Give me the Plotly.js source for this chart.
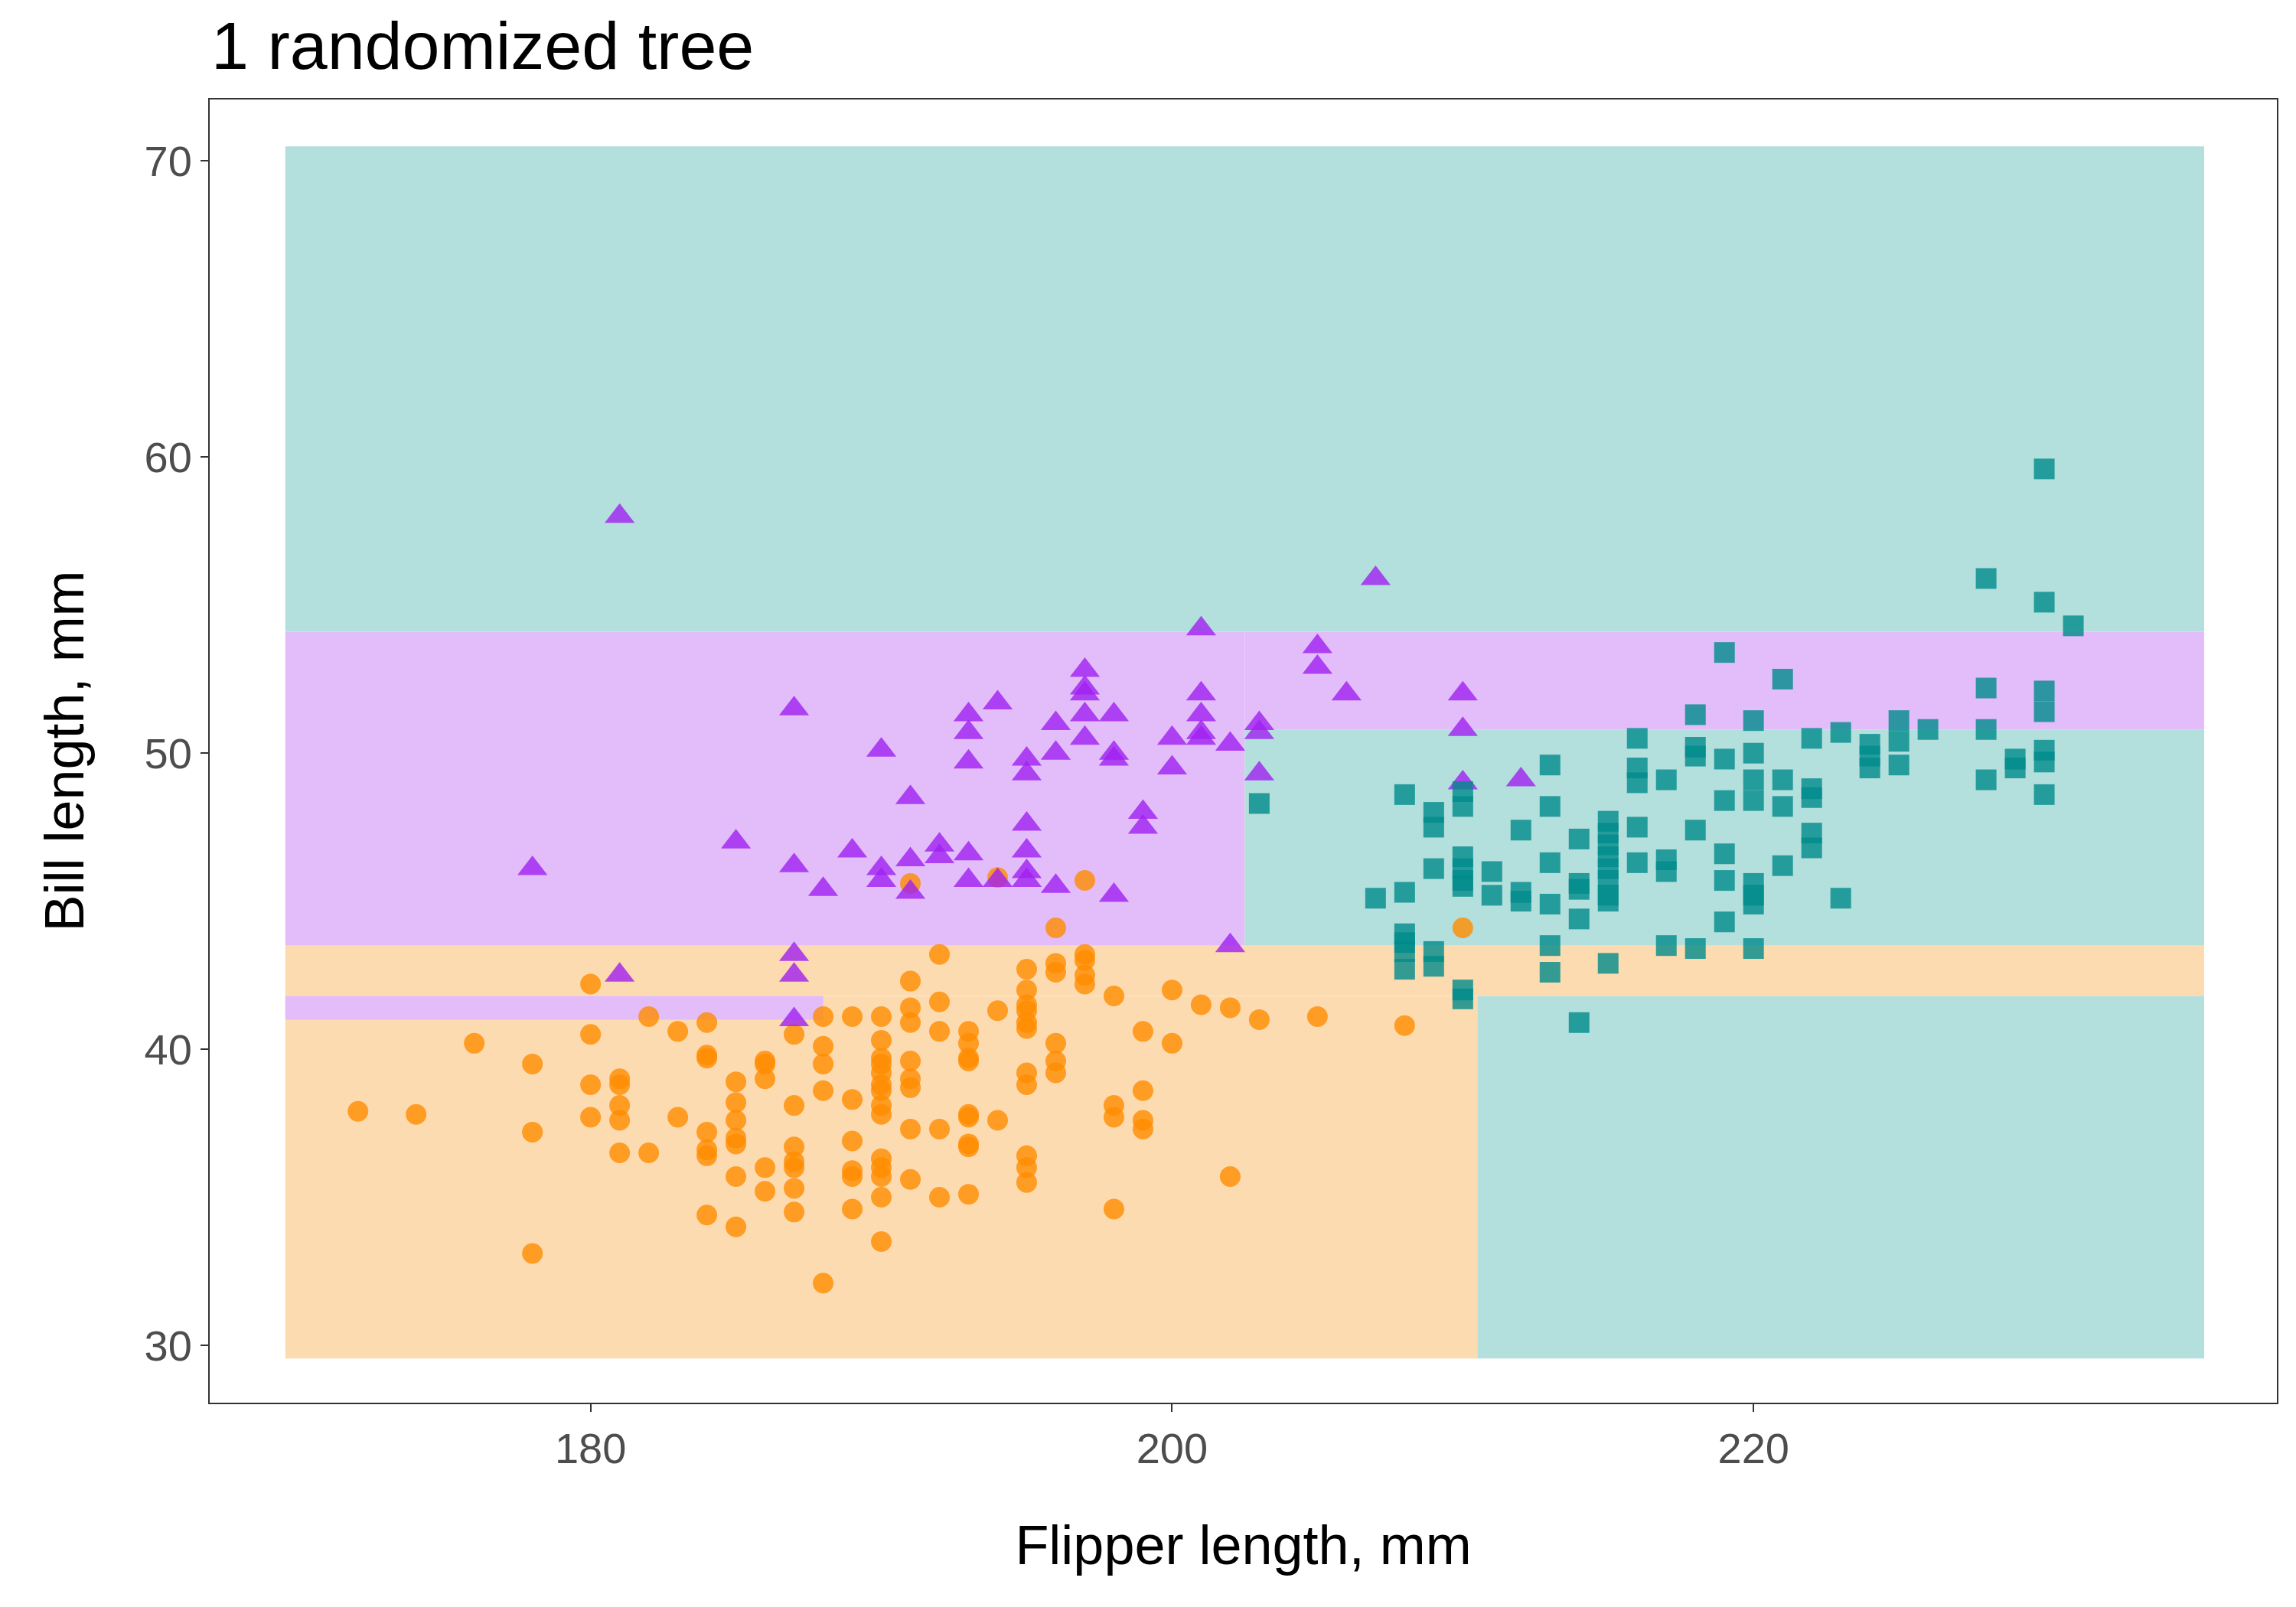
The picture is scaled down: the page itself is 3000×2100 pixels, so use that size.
<!DOCTYPE html>
<html>
<head>
<meta charset="utf-8">
<script src="https://cdn.plot.ly/plotly-3.0.1.min.js"></script>
<style>body{margin:0;background:#fff;} #plot{width:3000px;height:2100px;}</style>
</head>
<body>
<div id="plot"></div>
<script>
// decision regions of the tree: x0, x1, y0, y1, class
const region_x0 = [169.5, 169.5, 202.5, 202.5, 169.5, 169.5, 210.5, 169.5];
const region_x1 = [235.5, 202.5, 235.5, 235.5, 235.5, 210.5, 235.5, 188.0];
const region_y0 = [54.1, 43.5, 50.8, 43.5, 41.8, 29.55, 29.55, 41.0];
const region_y1 = [70.5, 54.1, 54.1, 50.8, 43.5, 41.8, 41.8, 41.8];
const region_cls = ["Gentoo", "Chinstrap", "Chinstrap", "Gentoo", "Adelie", "Adelie", "Gentoo", "Chinstrap"];

const chin_x = [178,181,181,185,187,187,187,187,187,188,189,190,190,190,191,191,191,192,192,193,193,193,193,193,194,194,195,195,195,195,195,195,196,196,196,197,197,197,197,197,198,198,198,198,199,199,200,200,201,201,201,201,201,202,202,203,203,203,205,205,206,207,210,210,210,212];
const chin_y = [46.1,58.0,42.5,47.0,51.5,46.2,43.2,42.5,41.0,45.4,46.7,50.1,46.1,45.7,48.5,46.4,45.3,46.9,46.5,51.3,50.7,49.7,46.6,45.7,51.7,45.7,49.8,49.3,47.6,46.7,46.0,45.7,51.0,50.0,45.5,52.8,52.2,52.0,51.3,50.5,51.3,50.0,49.8,45.2,48.0,47.5,50.5,49.5,54.2,52.0,51.3,50.7,50.5,50.3,43.5,51.0,50.7,49.3,53.6,52.9,52.0,55.9,52.0,50.8,49.0,49.1];

const adel_x = [172,174,176,178,178,178,180,180,180,180,181,181,181,181,181,182,182,183,183,184,184,184,184,184,184,184,185,185,185,185,185,185,185,186,186,186,186,186,187,187,187,187,187,187,187,188,188,188,188,188,189,189,189,189,189,189,190,190,190,190,190,190,190,190,190,190,190,190,190,190,191,191,191,191,191,191,191,191,191,192,192,192,192,192,193,193,193,193,193,193,193,193,193,194,194,194,195,195,195,195,195,195,195,195,195,195,195,196,196,196,196,196,196,197,197,197,197,197,198,198,198,198,199,199,199,199,200,200,201,202,202,203,205,208,210];
const adel_y = [37.9,37.8,40.2,39.5,37.2,33.1,42.2,40.5,38.8,37.7,39.0,38.8,38.1,37.6,36.5,41.1,36.5,40.6,37.7,40.9,39.8,39.7,37.2,36.6,36.4,34.4,38.9,38.2,37.6,37.0,36.8,35.7,34.0,39.6,39.5,39.0,36.0,35.2,40.5,38.1,36.7,36.2,36.0,35.3,34.5,41.1,40.1,39.5,38.6,32.1,41.1,38.3,36.9,35.9,35.7,34.6,41.1,40.3,39.7,39.5,39.2,38.8,38.6,38.1,37.8,36.3,36.0,35.7,35.0,33.5,45.6,42.3,41.4,40.9,39.6,39.0,38.7,37.3,35.6,43.2,41.6,40.6,37.3,35.0,40.6,40.2,39.7,39.6,37.8,37.7,36.8,36.7,35.1,45.8,41.3,37.6,42.7,42.0,41.5,41.3,40.9,40.7,39.2,38.8,36.4,36.0,35.5,44.1,42.9,42.6,40.2,39.6,39.2,45.7,43.2,43.0,42.5,42.2,41.8,38.1,37.7,34.6,40.6,38.6,37.6,37.3,42.0,40.2,41.5,41.4,35.7,41.0,41.1,40.8,44.1];

const gent_x = [203,207,208,208,208,208,208,208,209,209,209,209,209,210,210,210,210,210,210,210,210,211,211,212,212,212,213,213,213,213,213,213,214,214,214,214,214,215,215,215,215,215,215,215,215,215,216,216,216,216,216,217,217,217,217,218,218,218,218,218,219,219,219,219,219,219,220,220,220,220,220,220,220,220,221,221,221,221,222,222,222,222,222,223,223,224,224,224,225,225,225,226,228,228,228,228,229,229,230,230,230,230,230,230,230,231];
const gent_y = [48.3,45.1,48.6,45.3,43.9,43.6,43.3,42.7,48.0,47.5,46.1,43.3,42.8,48.7,48.2,46.5,46.1,45.7,45.5,42.0,41.7,46.0,45.2,47.4,45.3,45.0,49.6,48.2,46.3,44.9,43.5,42.6,47.1,45.6,45.4,44.4,40.9,47.7,47.3,46.9,46.5,46.1,45.7,45.2,45.0,42.9,50.5,49.5,49.0,47.5,46.3,49.1,46.4,46.0,43.5,51.3,50.2,49.9,47.4,43.4,53.4,49.8,48.4,46.6,45.7,44.3,51.1,50.0,49.1,48.4,45.6,45.2,44.9,43.4,52.5,49.1,48.2,46.2,50.5,48.8,48.5,47.3,46.8,50.7,45.1,50.3,49.9,49.5,51.1,50.4,49.6,50.8,55.9,52.2,50.8,49.1,49.8,49.5,59.6,55.1,52.1,51.4,50.1,49.7,48.6,54.3];

const fill_col = {Adelie: "#fddbb0", Chinstrap: "#e2bdfa", Gentoo: "#b3dfdd"};

const shapes = region_cls.map((c, i) => ({
    type: "rect", layer: "below", xref: "x", yref: "y",
    x0: region_x0[i], x1: region_x1[i], y0: region_y0[i], y1: region_y1[i],
    fillcolor: fill_col[c], line: {width: 0}
}));

const mk = (x, y, col, sym, size) => ({
    x: x, y: y, type: "scatter", mode: "markers", showlegend: false, hoverinfo: "skip",
    marker: {color: col, symbol: sym, size: size, opacity: 0.8, line: {width: 0}}
});

const traces = [
    mk(adel_x, adel_y, "#ff8c00", "circle", 27),
    mk(chin_x, chin_y, "#a020f0", "triangle-up", 34),
    mk(gent_x, gent_y, "#008b8b", "square", 27)
];

const axis_common = {
    showgrid: false, zeroline: false, showline: true, mirror: true,
    linecolor: "#333", linewidth: 2, ticks: "outside", ticklen: 10, tickwidth: 2, tickcolor: "#333",
    tickfont: {size: 56, color: "#4d4d4d", family: "Liberation Sans, Arial, sans-serif"}
};

const layout = {
    width: 3000, height: 2100,
    margin: {l: 274, r: 25, t: 130, b: 267},
    paper_bgcolor: "#fff", plot_bgcolor: "#fff",
    font: {family: "Liberation Sans, Arial, sans-serif", color: "#000"},
    title: {text: "1 randomized tree", x: 0.092, xanchor: "left", y: 0.972, yanchor: "middle",
            font: {size: 88, color: "#000"}},
    xaxis: Object.assign({}, axis_common, {range: [166.9, 238.0], tickvals: [180, 200, 220],
            title: {text: "Flipper length, mm", font: {size: 72, color: "#000"}, standoff: 70}}),
    yaxis: Object.assign({}, axis_common, {range: [28.06, 72.08], tickvals: [30, 40, 50, 60, 70],
            title: {text: "Bill length, mm", font: {size: 72, color: "#000"}, standoff: 55}}),
    shapes: shapes
};

Plotly.newPlot("plot", traces, layout, {staticPlot: true});
</script>
</body>
</html>
